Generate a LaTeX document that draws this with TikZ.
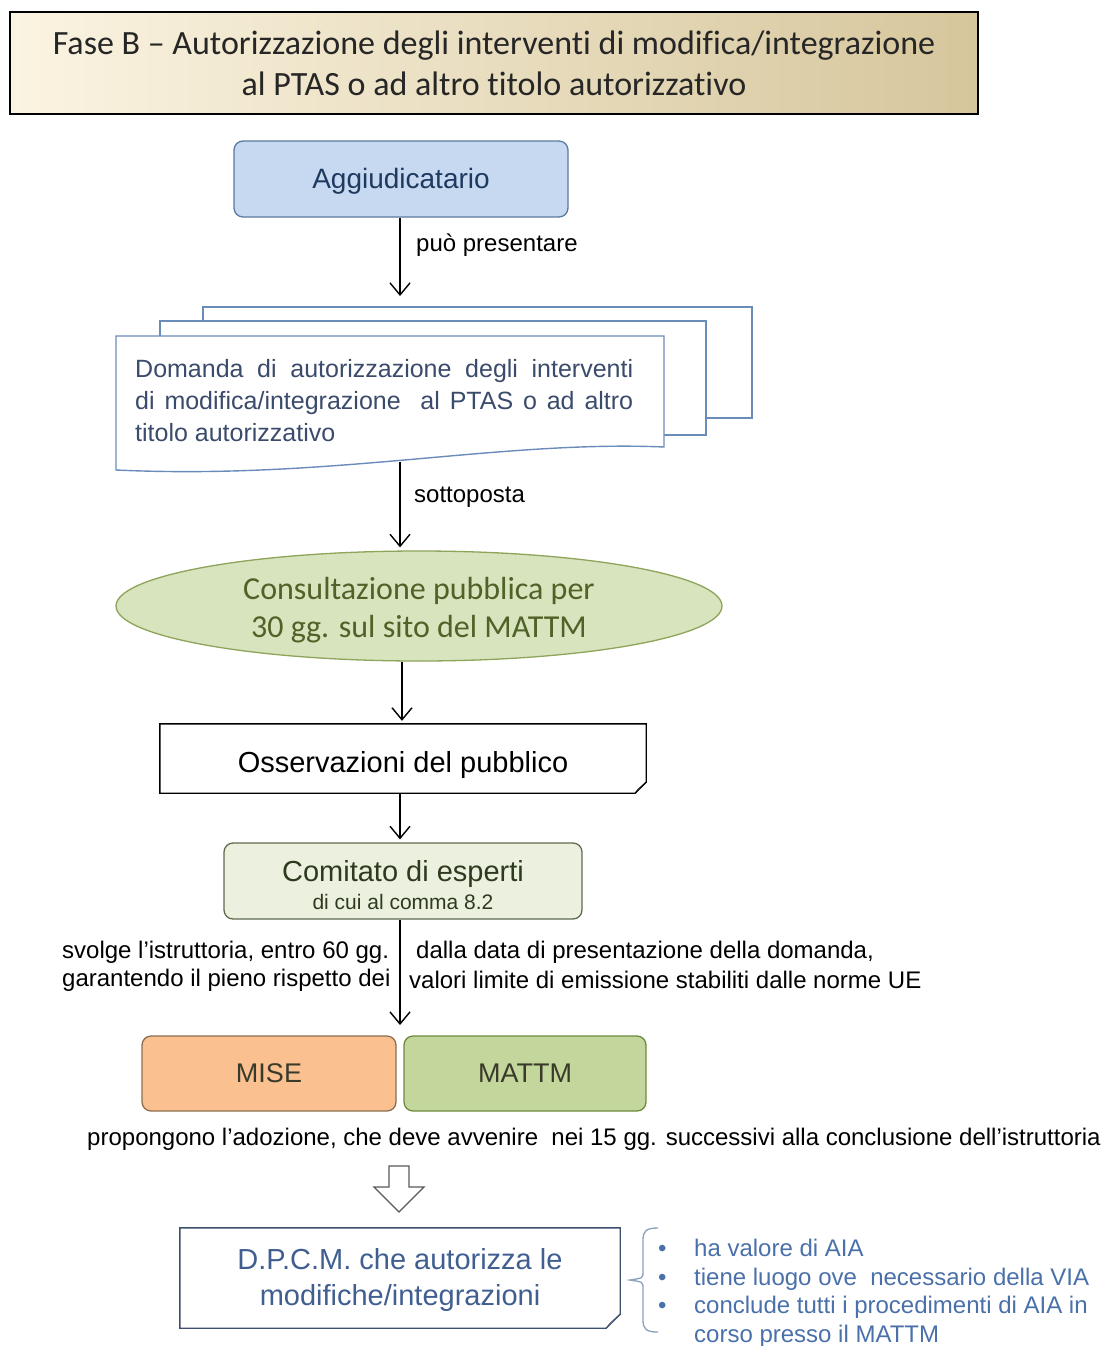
\documentclass[tikz,border=0pt]{standalone}
\usepackage{fontspec}
\setmainfont{Liberation Sans}
\newfontfamily\calib[Ligatures={NoCommon}]{Carlito}
\usetikzlibrary{arrows.meta,shapes.geometric,calc}
\newcommand\setfs[2]{\fontsize{#1}{#2}\selectfont}
\newcommand\lowr[2]{\raisebox{-#1}[\height][\depth]{\begin{tabular}{@{}c@{}}#2\end{tabular}}}
\newcommand\lowone[2]{\raisebox{-#1}[\height][\depth]{#2}}
\definecolor{titleL}{HTML}{FBF4E2}
\definecolor{titleR}{HTML}{D6C69C}
\definecolor{aggiF}{HTML}{C6D9F1}
\definecolor{aggiD}{HTML}{5A7AA0}
\definecolor{aggiT}{HTML}{1F3A5F}
\definecolor{sheetD}{HTML}{6A8CBA}
\definecolor{docT}{HTML}{3B4B6B}
\definecolor{consF}{HTML}{D7E4BD}
\definecolor{consD}{HTML}{8EA45A}
\definecolor{consT}{HTML}{4F6228}
\definecolor{comF}{HTML}{EBF1DE}
\definecolor{comD}{HTML}{5F6B4F}
\definecolor{comT}{HTML}{2E3A1E}
\definecolor{miseF}{HTML}{FAC090}
\definecolor{miseD}{HTML}{8C6E50}
\definecolor{mattmF}{HTML}{C3D69B}
\definecolor{mattmD}{HTML}{6F8A3F}
\definecolor{boxT}{HTML}{3A3A2A}
\definecolor{dpcmD}{HTML}{3D4F6E}
\definecolor{dpcmT}{HTML}{405F90}
\definecolor{bulT}{HTML}{4A70AA}
\definecolor{braceC}{HTML}{8AA0C0}
\begin{document}
\begin{tikzpicture}[x=1pt,y=-1pt,
  arr/.style={line width=1.4pt, -{Straight Barb[length=12pt,width=20pt,line width=1.4pt]}, shorten >=3pt},
  lbl/.style={inner sep=0pt, anchor=west, font=\setfs{24}{28}},
  rbox/.style={rounded corners=9pt, line width=1.3pt, minimum height=76pt, inner sep=0pt},
  sheet/.style={draw=sheetD, fill=white, line width=1.4pt},
  foldfill/.style={fill=black!12, line width=0.9pt},
]
\useasboundingbox (0,0) rectangle (1103,1346);

% title
\node[draw=black, line width=1.8pt, left color=titleL, right color=titleR,
      minimum width=968pt, minimum height=102pt, inner sep=0pt, align=center,
      font=\calib\setfs{34}{41}, text=black!85] (title) at (494,63)
  {Fase B – Autorizzazione degli interventi di modifica/integrazione\\al PTAS o ad altro titolo autorizzativo};

% Aggiudicatario
\node[rbox, draw=aggiD, fill=aggiF, minimum width=334pt, text=aggiT, font=\setfs{28}{32}] (aggi) at (401,179) {\lowone{2pt}{Aggiudicatario}};

% document stack
\draw[sheet] (203,307) rectangle (752,418);
\draw[sheet] (160,321) rectangle (706,435);
\draw[sheet] (116,336) -- (664,336) -- (664,447) .. controls (500,440) and (330,480) .. (116,470) -- cycle;
\node[anchor=north west, inner sep=0pt, text width=498pt, align=justify, text=docT, font=\setfs{25}{32}] (doc) at (135,359)
  {Domanda di autorizzazione degli interventi\linebreak di modifica/integrazione\ \ al PTAS o ad altro\linebreak titolo autorizzativo};
\coordinate (stackTop) at (400,299);
\coordinate (stackBot) at (400,462);

\draw[arr] (aggi.south -| stackTop) -- (stackTop);
\node[lbl] (lpres) at (416,245) {può presentare};

% consultazione
\node[ellipse, draw=consD, fill=consF, line width=1.3pt, minimum width=606pt, minimum height=110pt, inner sep=0pt,
      text=consT, font=\calib\setfs{32}{38}] (cons) at (419,606)
  {\lowr{5pt}{Consultazione pubblica per\\30 gg. sul sito del MATTM}};
\draw[arr] (stackBot) -- (stackBot |- cons.north);
\node[lbl] (lsott) at (414,497) {sottoposta};

% osservazioni
\node[minimum width=486pt, minimum height=69pt, inner sep=0pt, font=\setfs{29}{32}] (obs) at (403,758.5) {\lowone{6pt}{Osservazioni del pubblico}};
\draw[line width=1.4pt] (obs.north west) -- (obs.north east) -- ($(obs.south east)+(0,-11)$) -- ($(obs.south east)+(-11,0)$) -- (obs.south west) -- cycle;
\draw[foldfill] ($(obs.south east)+(0,-11)$) -- ($(obs.south east)+(-8,-4)$) -- ($(obs.south east)+(-11,0)$);
\draw[arr] (cons.south -| 402,0) -- (obs.north -| 402,0);

% comitato
\node[rbox, draw=comD, fill=comF, minimum width=358pt, text=comT, font=\setfs{29}{31}] (com) at (403,881)
  {\lowr{8pt}{Comitato di esperti\\[-3pt]{\setfs{21}{31}di cui al comma 8.2}}};
\draw[arr] (obs.south -| 400,0) -- (com.north -| 400,0);

\node[lbl] (l1) at (62,952) {svolge l’istruttoria, entro 60 gg.};
\node[lbl] (l2) at (62,980) {garantendo il pieno rispetto dei};
\node[lbl] (r1) at (416,952) {dalla data di presentazione della domanda,};
\node[lbl] (r2) at (409,980) {valori limite di emissione stabiliti dalle norme UE};

\coordinate (gap) at (400,1028);
\draw[arr] (com.south -| gap) -- (gap);

% MISE / MATTM
\node[rbox, draw=miseD, fill=miseF, minimum width=254pt, minimum height=75pt, text=boxT, font=\setfs{27}{30}] (mise) at (269,1073.5) {MISE};
\node[rbox, draw=mattmD, fill=mattmF, minimum width=242pt, minimum height=75pt, text=boxT, font=\setfs{27}{30}] (mattm) at (525,1073.5) {MATTM};

\node[inner sep=0pt, font=\setfs{24}{28}] (prop) at (594,1139)
  {propongono l’adozione, che deve avvenire\ \ nei 15 gg. successivi alla conclusione dell’istruttoria};

% hollow block arrow
\draw[draw=black!65, fill=white, line width=1.3pt, line join=miter]
  (389,1166) -- (409,1166) -- (409,1187) -- (424,1187) -- (399,1212) -- (374,1187) -- (389,1187) -- cycle;

% DPCM
\node[minimum width=440pt, minimum height=100pt, inner sep=0pt, text=dpcmT, font=\setfs{29}{36}] (dpcm) at (400,1278)
  {\lowr{2pt}{D.P.C.M. che autorizza le\\modifiche/integrazioni}};
\draw[draw=dpcmD, line width=1.4pt] (dpcm.north west) -- (dpcm.north east) -- ($(dpcm.south east)+(0,-14)$) -- ($(dpcm.south east)+(-14,0)$) -- (dpcm.south west) -- cycle;
\draw[foldfill, draw=dpcmD] ($(dpcm.south east)+(0,-14)$) -- ($(dpcm.south east)+(-10,-5)$) -- ($(dpcm.south east)+(-14,0)$);

% brace
\draw[draw=braceC, line width=1.3pt]
  (658,1228) .. controls (646,1228) and (643,1231) .. (643,1240) -- (643,1272)
  .. controls (643,1278) .. (630,1280) .. controls (643,1282) .. (643,1288) -- (643,1320)
  .. controls (643,1329) and (646,1332) .. (658,1332);

\node[anchor=north west, inner sep=0pt, align=left, text=bulT, font=\setfs{24}{28.5}] (bul) at (658,1239)
  {\makebox[36pt][l]{•}ha valore di AIA\\
   \makebox[36pt][l]{•}tiene luogo ove\ \ necessario della VIA\\
   \makebox[36pt][l]{•}conclude tutti i procedimenti di AIA in\\
   \makebox[36pt][l]{}corso presso il MATTM};
\end{tikzpicture}
\end{document}
